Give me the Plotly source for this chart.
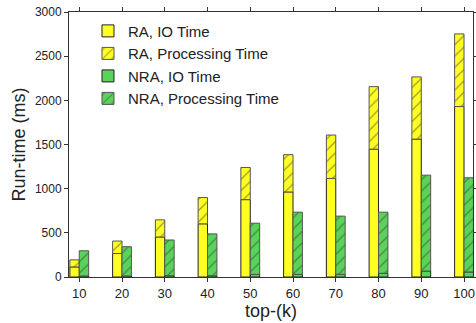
import plotly.graph_objects as go

k = [10, 20, 30, 40, 50, 60, 70, 80, 90, 100]
ra_io = [114, 266, 453, 602, 876, 963, 1116, 1447, 1561, 1930]
ra_total = [194, 407, 647, 899, 1240, 1385, 1607, 2155, 2265, 2752]
nra_io = [12, 12, 15, 15, 30, 30, 30, 42, 68, 57]
nra_total = [297, 343, 419, 488, 609, 734, 689, 734, 1153, 1123]

ra_proc = [t - i for t, i in zip(ra_total, ra_io)]
nra_proc = [t - i for t, i in zip(nra_total, nra_io)]

YEL = "#ffff22"
GRN = "#5ad35a"
W = 2.2

fig = go.Figure()
fig.add_trace(go.Bar(x=k, y=ra_io, name="RA, IO Time", width=W, offset=-W,
                     marker=dict(color=YEL, line=dict(color="#222", width=1))))
fig.add_trace(go.Bar(x=k, y=ra_proc, base=ra_io, name="RA, Processing Time", width=W, offset=-W,
                     marker=dict(color=YEL, line=dict(color="#555", width=1),
                                 pattern=dict(shape="/", fgcolor="#333", bgcolor=YEL, size=8, solidity=0.15))))
fig.add_trace(go.Bar(x=k, y=nra_io, name="NRA, IO Time", width=W, offset=0,
                     marker=dict(color=GRN, line=dict(color="#222", width=1))))
fig.add_trace(go.Bar(x=k, y=nra_proc, base=nra_io, name="NRA, Processing Time", width=W, offset=0,
                     marker=dict(color=GRN, line=dict(color="#555", width=1),
                                 pattern=dict(shape="/", fgcolor="#333", bgcolor=GRN, size=8, solidity=0.15))))

fig.update_layout(
    width=476, height=323,
    margin=dict(l=69, r=3, t=12, b=46, autoexpand=False),
    barmode="overlay",
    plot_bgcolor="white", paper_bgcolor="white",
    font=dict(family="Liberation Sans, Arial, sans-serif", color="#222"),
    showlegend=True,
    legend=dict(x=0.047, y=0.99, xanchor="left", yanchor="top",
                bgcolor="rgba(0,0,0,0)", font=dict(size=15),
                tracegroupgap=0, itemwidth=30),
)
fig.update_xaxes(range=[7.6, 102.1], tickvals=k, ticktext=[str(v) for v in k],
                 ticks="outside", ticklen=4, tickcolor="#333", automargin=False,
                 showline=True, linecolor="#333", linewidth=1, mirror="ticks",
                 showgrid=False, zeroline=False, tickfont=dict(size=13),
                 title=dict(text="top-(k)", font=dict(size=18), standoff=0))
fig.update_yaxes(range=[0, 3000], tickvals=[0, 500, 1000, 1500, 2000, 2500, 3000],
                 ticks="outside", ticklen=4, tickcolor="#333", automargin=False,
                 showline=True, linecolor="#333", linewidth=1, mirror="ticks",
                 showgrid=False, zeroline=False, tickfont=dict(size=12),
                 title=dict(text="Run-time (ms)", font=dict(size=18), standoff=4))

fig.write_html("out.html", config={"displayModeBar": False},
               post_script="document.body.style.margin='0';")
